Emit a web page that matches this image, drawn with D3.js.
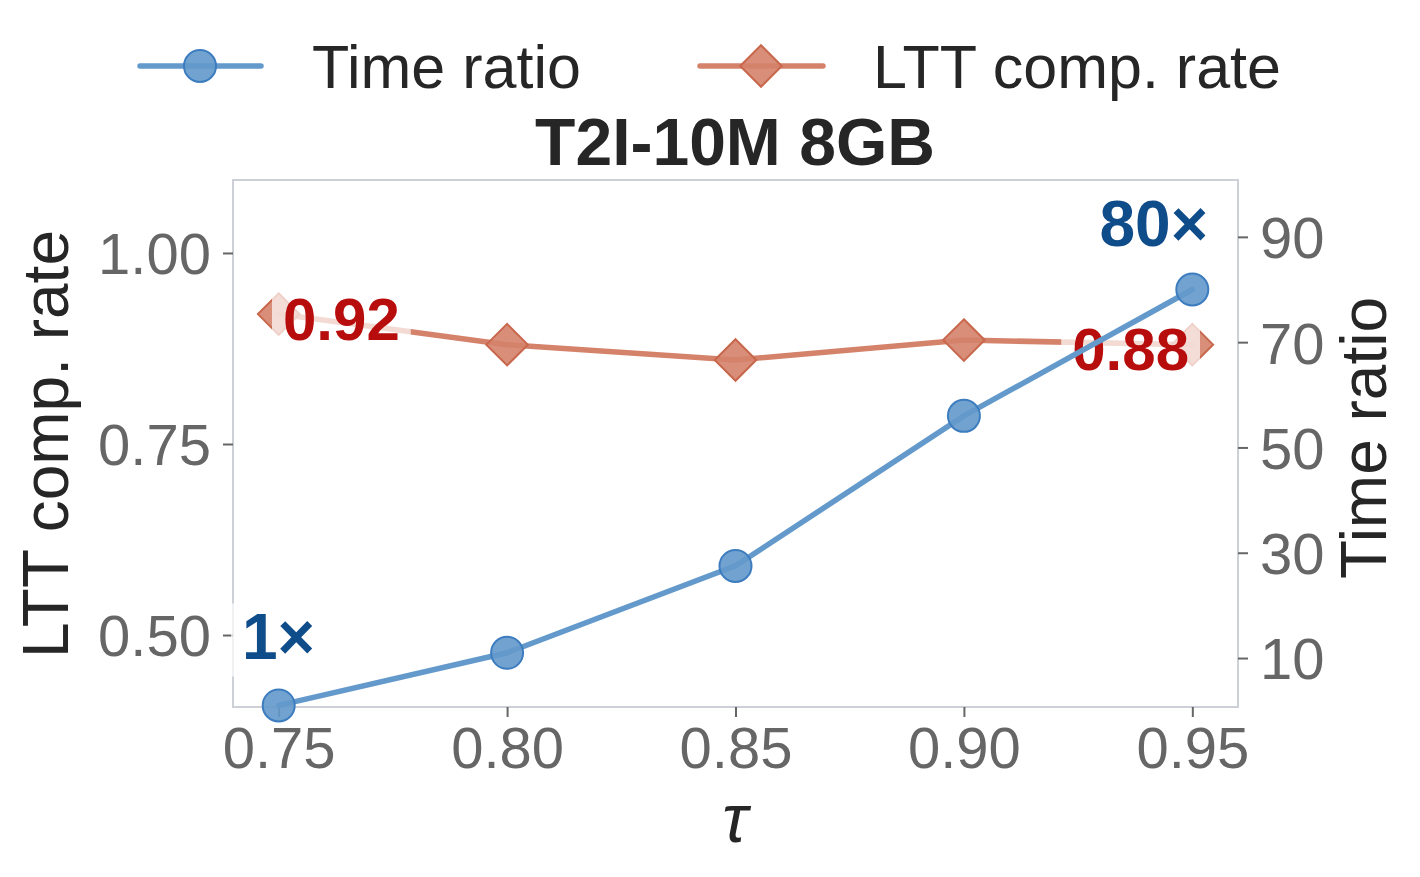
<!DOCTYPE html>
<html>
<head>
<meta charset="utf-8">
<script src="https://cdn.jsdelivr.net/npm/d3@7"></script>
<style>
  body { margin: 0; background: #fff; }
  svg text { font-family: "Liberation Sans", Arial, sans-serif; }
</style>
</head>
<body>
<svg id="chart" width="1420" height="877"></svg>
<script>
const taus = [0.75, 0.80, 0.85, 0.90, 0.95];
const timeRatio = [1, 11, 27.5, 56, 80];
const lttRate = [0.92, 0.88, 0.86, 0.886, 0.88];
const xTicks = [0.75, 0.80, 0.85, 0.90, 0.95];
const leftTicks = [0.50, 0.75, 1.00];
const rightTicks = [10, 30, 50, 70, 90];

const blue = "#6399cb", blueEdge = "#3d7dbf", blueText = "#0f4c8a";
const red = "#d5826b", redEdge = "#c8674c", redText = "#b80d0d";

const plot = { left: 233, right: 1238, top: 180, bottom: 707 };

const x = d3.scaleLinear().domain([0.74, 0.96]).range([plot.left, plot.right]);
const yL = d3.scaleLinear().domain([0.4058, 1.0955]).range([plot.bottom, plot.top]);
const yR = d3.scaleLinear().domain([0.7, 100.8]).range([plot.bottom, plot.top]);

const svg = d3.select("#chart");

// spines
svg.append("rect")
  .attr("x", plot.left).attr("y", plot.top)
  .attr("width", plot.right - plot.left).attr("height", plot.bottom - plot.top)
  .attr("fill", "none").attr("stroke", "#cdd0d6").attr("stroke-width", 2);

function styleAxis(g) {
  g.select(".domain").remove();
  g.selectAll(".tick line").attr("stroke", "#666").attr("stroke-width", 2);
  g.selectAll(".tick text").attr("fill", "#666").style("font-size", "58px");
}

svg.append("g").attr("transform", `translate(0,${plot.bottom})`)
  .call(d3.axisBottom(x).tickValues(xTicks).tickFormat(d3.format(".2f")).tickSize(10).tickPadding(10))
  .call(styleAxis);

svg.append("g").attr("transform", `translate(${plot.left},0)`)
  .call(d3.axisLeft(yL).tickValues(leftTicks).tickFormat(d3.format(".2f")).tickSize(10).tickPadding(12))
  .call(styleAxis)
  .selectAll(".tick text").attr("dy", "0.36em");

svg.append("g").attr("transform", `translate(${plot.right},0)`)
  .call(d3.axisRight(yR).tickValues(rightTicks).tickSize(10).tickPadding(12))
  .call(styleAxis)
  .selectAll(".tick text").attr("dy", "0.36em");

// axis labels
svg.append("text").attr("x", 735).attr("y", 842).attr("text-anchor", "middle")
  .style("font-size", "68px").style("font-style", "italic").attr("fill", "#262626").text("τ");
svg.append("text").attr("transform", "translate(68,444) rotate(-90)").attr("text-anchor", "middle")
  .style("font-size", "64px").attr("fill", "#262626").text("LTT comp. rate");
svg.append("text").attr("transform", "translate(1386,438) rotate(-90)").attr("text-anchor", "middle")
  .style("font-size", "64px").attr("fill", "#262626").text("Time ratio");

// title
svg.append("text").attr("x", 735).attr("y", 165).attr("text-anchor", "middle")
  .style("font-size", "66px").style("font-weight", "bold").attr("fill", "#262626").text("T2I-10M 8GB");

const diamond = d3.symbol().type(d3.symbolDiamond2).size(1100);

// LTT series (left axis)
const redLine = d3.line().x((d, i) => x(taus[i])).y(d => yL(d));
svg.append("path").datum(lttRate).attr("d", redLine)
  .attr("fill", "none").attr("stroke", red).attr("stroke-width", 5.5).attr("stroke-linecap", "round");
svg.selectAll(".dia").data(lttRate).join("path")
  .attr("transform", (d, i) => `translate(${x(taus[i])},${yL(d)})`)
  .attr("d", diamond).attr("fill", red).attr("fill-opacity", 0.9)
  .attr("stroke", redEdge).attr("stroke-width", 2);

function annotate(tx, ty, anchor, txt, color, size) {
  const g = svg.append("g");
  const t = g.append("text").attr("x", tx).attr("y", ty).attr("text-anchor", anchor)
    .style("font-size", size + "px").style("font-weight", "bold").attr("fill", color).text(txt);
  const b = t.node().getBBox();
  g.insert("rect", "text").attr("x", b.x - 11).attr("y", b.y + 2).attr("width", b.width + 22)
    .attr("height", b.height + 2).attr("rx", 4).attr("fill", "#fff").attr("fill-opacity", 0.7);
}

annotate(283, 340, "start", "0.92", redText, 60);
annotate(1189, 370, "end", "0.88", redText, 60);

// Time ratio series (right axis)
const blueLine = d3.line().x((d, i) => x(taus[i])).y(d => yR(d));
svg.append("path").datum(timeRatio).attr("d", blueLine)
  .attr("fill", "none").attr("stroke", blue).attr("stroke-width", 5.5).attr("stroke-linecap", "round");
svg.selectAll(".dot").data(timeRatio).join("circle")
  .attr("cx", (d, i) => x(taus[i])).attr("cy", d => yR(d)).attr("r", 16)
  .attr("fill", blue).attr("fill-opacity", 0.9)
  .attr("stroke", blueEdge).attr("stroke-width", 2);

annotate(1208, 246, "end", "80×", blueText, 64);
annotate(242, 659, "start", "1×", blueText, 64);

// legend
const lg = svg.append("g");
lg.append("line").attr("x1", 140).attr("x2", 261).attr("y1", 66).attr("y2", 66)
  .attr("stroke", blue).attr("stroke-width", 5.5).attr("stroke-linecap", "round");
lg.append("circle").attr("cx", 200).attr("cy", 66).attr("r", 16)
  .attr("fill", blue).attr("fill-opacity", 0.9).attr("stroke", blueEdge).attr("stroke-width", 2);
lg.append("text").attr("x", 312).attr("y", 88).style("font-size", "61px").attr("fill", "#262626").text("Time ratio");

lg.append("line").attr("x1", 700).attr("x2", 823).attr("y1", 66).attr("y2", 66)
  .attr("stroke", red).attr("stroke-width", 5.5).attr("stroke-linecap", "round");
lg.append("path").attr("transform", "translate(761,66)").attr("d", diamond)
  .attr("fill", red).attr("fill-opacity", 0.9).attr("stroke", redEdge).attr("stroke-width", 2);
lg.append("text").attr("x", 873).attr("y", 88).style("font-size", "61px").attr("fill", "#262626").text("LTT comp. rate");
</script>
</body>
</html>
